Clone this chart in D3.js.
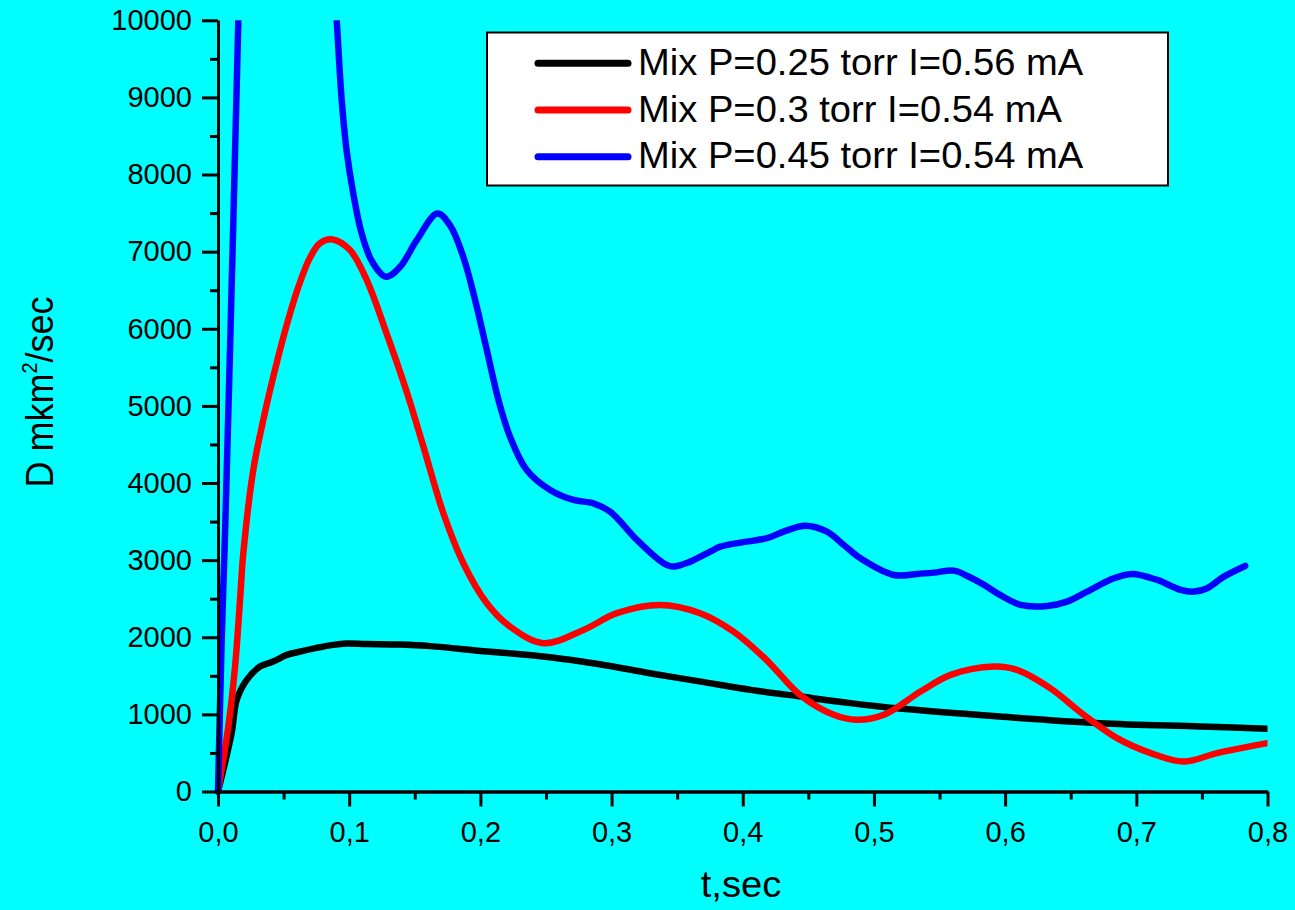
<!DOCTYPE html>
<html>
<head>
<meta charset="utf-8">
<script src="https://cdn.jsdelivr.net/npm/d3@7"></script>
<style>
  html, body { margin: 0; padding: 0; background: #00ffff; }
  svg { display: block; }
  text { font-family: "Liberation Sans", Arial, sans-serif; fill: #000; }
</style>
</head>
<body>
<svg id="chart" width="1295" height="910"></svg>
<script>
// Diffusion coefficient D (mkm^2/sec) versus time t (sec) for three gas mixes.
const seriesLabels = [
  "Mix P=0.25 torr I=0.56 mA",
  "Mix P=0.3 torr I=0.54 mA",
  "Mix P=0.45 torr I=0.54 mA"
];
const seriesColors = ["#000000", "#ff0000", "#0000ff"];

// [t, D] pairs
const mixP025 = [
  [0, 0], [0.0104, 760], [0.0143, 1188], [0.0219, 1447], [0.032, 1620],
  [0.0421, 1685], [0.0524, 1771], [0.0625, 1814], [0.0752, 1862], [0.0877, 1901],
  [0.098, 1918], [0.113, 1912], [0.139, 1905], [0.162, 1885], [0.2, 1823],
  [0.215, 1801], [0.253, 1741], [0.291, 1650], [0.329, 1534], [0.368, 1425],
  [0.406, 1318], [0.444, 1231], [0.482, 1146], [0.52, 1075], [0.596, 972],
  [0.672, 886], [0.749, 843], [0.8, 813]
];

const mixP030 = [
  [0, 0], [0.008, 860], [0.013, 1620], [0.0168, 2484], [0.0193, 3089],
  [0.0269, 4169], [0.0345, 4817], [0.0434, 5465], [0.0524, 6050], [0.0612, 6540],
  [0.0701, 6920], [0.0778, 7110], [0.0874, 7158], [0.1006, 7020], [0.1134, 6631],
  [0.1287, 5930], [0.1439, 5180], [0.1566, 4471], [0.1718, 3608], [0.187, 2960],
  [0.2049, 2441], [0.2226, 2138], [0.248, 1923], [0.2786, 2095], [0.304, 2312],
  [0.337, 2419], [0.3675, 2312], [0.393, 2073], [0.418, 1707], [0.4436, 1253],
  [0.4693, 994], [0.487, 929], [0.5076, 994], [0.5355, 1296], [0.5585, 1512],
  [0.5915, 1620], [0.609, 1577], [0.6343, 1340], [0.66, 994], [0.6853, 692],
  [0.711, 498], [0.7364, 389], [0.7616, 498], [0.8, 627]
];

// rises far above the 10000 limit between t = 0.016 and t = 0.09
const mixP045 = [
  [0, 0], [0.0028, 1966], [0.0053, 3300], [0.0117, 7408], [0.0155, 10000],
  [0.02, 13000], [0.05, 25000], [0.085, 11500], [0.0905, 10000], [0.0943, 8963],
  [0.098, 8315], [0.1031, 7754], [0.1095, 7236], [0.1172, 6880], [0.128, 6674],
  [0.1388, 6803], [0.1515, 7149], [0.1672, 7495], [0.1769, 7340], [0.187, 6930],
  [0.196, 6372], [0.2049, 5724], [0.2138, 5076], [0.2226, 4600], [0.2353, 4169],
  [0.2532, 3910], [0.271, 3780], [0.2862, 3737], [0.2989, 3628], [0.3193, 3262],
  [0.3396, 2960], [0.3472, 2916], [0.36, 2981], [0.3752, 3110], [0.3829, 3175],
  [0.398, 3227], [0.4184, 3284], [0.4311, 3369], [0.4477, 3447], [0.4642, 3369],
  [0.477, 3197], [0.4897, 3024], [0.5151, 2808], [0.533, 2821], [0.5457, 2838],
  [0.561, 2864], [0.5712, 2795], [0.584, 2679], [0.594, 2570], [0.6118, 2419],
  [0.632, 2406], [0.6472, 2462], [0.6625, 2592], [0.6829, 2765], [0.697, 2821],
  [0.716, 2743], [0.7338, 2614], [0.744, 2592], [0.754, 2636], [0.7667, 2786],
  [0.783, 2925]
];

const xTickValues = [0, 0.1, 0.2, 0.3, 0.4, 0.5, 0.6, 0.7, 0.8];
const xTickLabels = ["0,0", "0,1", "0,2", "0,3", "0,4", "0,5", "0,6", "0,7", "0,8"];
const xMinorTicks = [0.05, 0.15, 0.25, 0.35, 0.45, 0.55, 0.65, 0.75];
const yTickValues = [0, 1000, 2000, 3000, 4000, 5000, 6000, 7000, 8000, 9000, 10000];
const yMinorTicks = [500, 1500, 2500, 3500, 4500, 5500, 6500, 7500, 8500, 9500];
const xTitle = "t,sec";

const svg = d3.select("#chart");
const W = 1295, H = 910;
const plotLeft = 218, plotRight = 1267.5, plotTop = 20.3, plotBottom = 791.5;

svg.append("rect").attr("width", W).attr("height", H).attr("fill", "#00ffff");

const x = d3.scaleLinear().domain([0, 0.8]).range([plotLeft, plotRight]);
const y = d3.scaleLinear().domain([0, 10000]).range([plotBottom, plotTop]);

svg.append("defs").append("clipPath").attr("id", "plotClip")
  .append("rect")
  .attr("x", plotLeft - 6).attr("y", plotTop)
  .attr("width", plotRight - plotLeft + 6).attr("height", plotBottom - plotTop + 6);

const line = d3.line()
  .x(d => x(d[0]))
  .y(d => y(d[1]))
  .curve(d3.curveCatmullRom.alpha(0.5));

const series = [mixP025, mixP030, mixP045];
const plot = svg.append("g").attr("clip-path", "url(#plotClip)");
series.forEach((data, i) => {
  plot.append("path")
    .datum(data)
    .attr("d", line)
    .attr("fill", "none")
    .attr("stroke", seriesColors[i])
    .attr("stroke-width", 6.5)
    .attr("stroke-linecap", "round")
    .attr("stroke-linejoin", "round");
});

// Axes
const tickFont = 29;
const xAxisMinor = d3.axisBottom(x).tickValues(xMinorTicks).tickSize(8).tickFormat("").tickSizeOuter(0);
const xAxis = d3.axisBottom(x).tickValues(xTickValues)
  .tickFormat((d, i) => xTickLabels[i]).tickSize(15).tickPadding(15).tickSizeOuter(0);
const yAxisMinor = d3.axisLeft(y).tickValues(yMinorTicks).tickSize(8).tickFormat("").tickSizeOuter(0);
const yAxis = d3.axisLeft(y).tickValues(yTickValues)
  .tickFormat(d3.format("d")).tickSize(16).tickPadding(10).tickSizeOuter(0);

function styleAxis(g) {
  g.select(".domain").attr("stroke", "#000").attr("stroke-width", 3);
  g.selectAll(".tick line").attr("stroke", "#000").attr("stroke-width", 3);
  g.selectAll(".tick text")
    .style("font-family", '"Liberation Sans", Arial, sans-serif')
    .style("font-size", tickFont + "px")
    .attr("fill", "#000");
  g.attr("font-family", null).attr("font-size", null);
}

svg.append("g").attr("transform", `translate(0,${plotBottom})`).call(xAxisMinor).call(styleAxis);
svg.append("g").attr("transform", `translate(0,${plotBottom})`).call(xAxis).call(styleAxis);
svg.append("g").attr("transform", `translate(${plotLeft},0)`).call(yAxisMinor).call(styleAxis);
svg.append("g").attr("transform", `translate(${plotLeft},0)`).call(yAxis).call(styleAxis);

// Axis titles
svg.append("text")
  .attr("transform", `translate(741,897) scale(1.06,1)`)
  .attr("text-anchor", "middle")
  .style("font-size", "36px")
  .text(xTitle);

const yTitle = svg.append("text")
  .attr("transform", `translate(53,392) rotate(-90) scale(1,1.06)`)
  .attr("text-anchor", "middle")
  .style("font-size", "36px");
yTitle.append("tspan").text("D mkm");
yTitle.append("tspan").attr("dy", -15).style("font-size", "20px").text("2");
yTitle.append("tspan").attr("dy", 15).text("/sec");

// Legend
const legend = svg.append("g");
legend.append("rect")
  .attr("x", 487).attr("y", 32.5).attr("width", 681).attr("height", 153)
  .attr("fill", "#ffffff").attr("stroke", "#000").attr("stroke-width", 2);
seriesLabels.forEach((label, i) => {
  const cy = 63.3 + i * 46.7;
  legend.append("line")
    .attr("x1", 538).attr("x2", 628).attr("y1", cy).attr("y2", cy)
    .attr("stroke", seriesColors[i]).attr("stroke-width", 7)
    .attr("stroke-linecap", "round");
  legend.append("text")
    .attr("transform", `translate(638,${cy + 11.7}) scale(1.06,1)`)
    .style("font-size", "36px")
    .text(label);
});
</script>
</body>
</html>
